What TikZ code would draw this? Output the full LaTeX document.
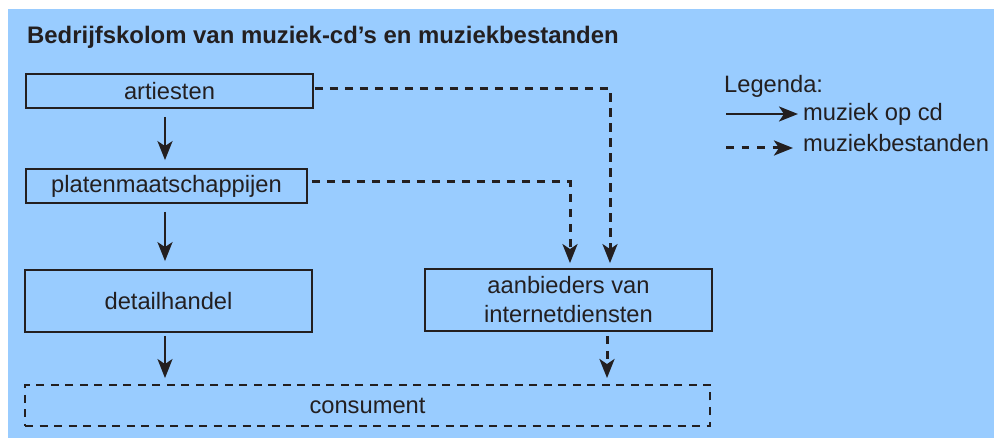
\documentclass[tikz,border=0pt]{standalone}
\usepackage{fontspec}
\setmainfont{Liberation Sans}
\usetikzlibrary{arrows.meta}
\definecolor{bgblue}{RGB}{153,204,255}
\definecolor{ink}{RGB}{35,31,32}
\tikzset{
  box/.style={draw=ink, line width=1.8pt, minimum width=287pt, inner sep=0pt, text=ink, align=center},
  cdarrow/.style={draw=ink, line width=2.4pt, -{Stealth[length=19pt,width=15pt,inset=5pt]}},
  filearrow/.style={draw=ink, line width=3pt, dash pattern=on 8.5pt off 6.5pt, -{Stealth[length=19pt,width=15pt,inset=5pt]}},
  lbl/.style={text=ink, inner sep=0pt}
}
\begin{document}
\begin{tikzpicture}[x=1pt,y=-1pt, font=\fontsize{23.7}{29}\selectfont]
\useasboundingbox (0,0) rectangle (994,438);
\fill[white] (0,0) rectangle (994,438);
\fill[bgblue] (8,9) rectangle (994,438);

\node[lbl, anchor=base west, font=\fontsize{23.9}{29}\selectfont\bfseries] (title) at (27,44) {Bedrijfskolom van muziek-cd’s en muziekbestanden};

\node[box, minimum width=287pt, minimum height=34pt] (art) at (169.5,91) {artiesten};
\node[box, minimum width=281pt, minimum height=34pt] (plat) at (166.5,186) {platenmaatschappijen};
\node[box, minimum width=287pt, minimum height=62pt] (det) at (168.5,301) {detailhandel};
\node[box, minimum width=287pt, minimum height=62pt] (aan) at (568.5,300) {aanbieders van\\internetdiensten};
\node[box, line width=1.9pt, dash pattern=on 8pt off 6.5pt, minimum width=685pt, minimum height=41pt] (cons) at (367.5,405.5) {consument};

\draw[cdarrow, shorten <=8pt, shorten >=8pt] ([xshift=-4.5pt]art.south) -- ([xshift=-1.5pt]plat.north);
\draw[cdarrow, shorten <=8pt, shorten >=8pt] ([xshift=-1.5pt]plat.south) -- ([xshift=-3.5pt]det.north);
\draw[cdarrow, shorten <=3pt, shorten >=6pt] ([xshift=-3.5pt]det.south) -- ([xshift=-202.5pt]cons.north);

\draw[filearrow, shorten <=1pt] ([yshift=2.5pt]art.east) -| ([xshift=41.5pt,yshift=5pt]aan.north);
\draw[filearrow, shorten <=4pt] ([yshift=4pt]plat.east) -| ([xshift=1.5pt,yshift=5pt]aan.north);
\draw[filearrow, shorten <=4pt, shorten >=6pt] ([xshift=38.5pt]aan.south) -- ([xshift=239.5pt]cons.north);

% legend
\node[lbl, anchor=base west] (leg) at (724,93) {Legenda:};
\node[lbl, anchor=base west] (cdtxt) at (803,121) {muziek op cd};
\node[lbl, anchor=base west] (mbtxt) at (803,152) {muziekbestanden};
\coordinate (cdstart) at (726,114);
\coordinate (mbstart) at (726,148);
\draw[cdarrow, shorten >=5pt] (cdstart) -- (cdstart -| cdtxt.west);
\draw[filearrow, dash pattern=on 7.5pt off 8pt, shorten >=10pt] (mbstart) -- (mbstart -| mbtxt.west);
\end{tikzpicture}
\end{document}
